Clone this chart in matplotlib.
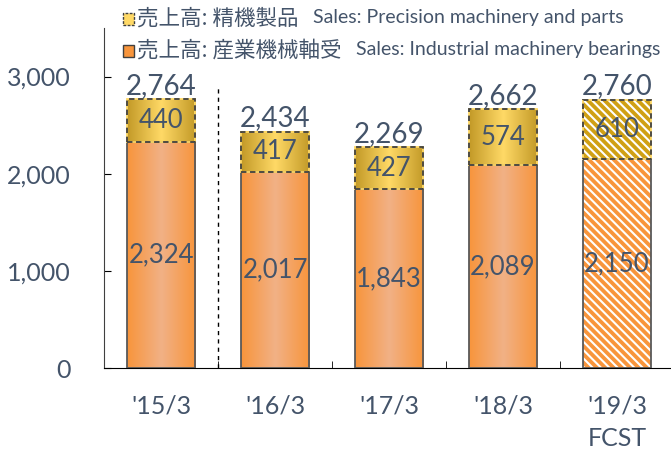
import numpy as np
import matplotlib.pyplot as plt

plt.rcParams['font.family'] = ['Lato', 'Noto Sans CJK JP', 'DejaVu Sans']
plt.rcParams['hatch.linewidth'] = 1.5

# data (sales, 100 million yen)
periods = ["'15/3", "'16/3", "'17/3", "'18/3", "'19/3\nFCST"]
industrial = [2324, 2017, 1843, 2089, 2150]
precision = [440, 417, 427, 574, 610]
totals = [2764, 2434, 2269, 2662, 2760]
forecast = [False, False, False, False, True]

txt_col = '#44546A'
orange_edge, orange_mid = '#F8953C', '#F1B186'
gold_edge, gold_mid = '#C39A28', '#FFD966'


def gradient_fill(ax, patch, c_edge, c_mid):
    x0, y0 = patch.get_x(), patch.get_y()
    w, h = patch.get_width(), patch.get_height()
    e = np.array(plt.matplotlib.colors.to_rgb(c_edge))
    m = np.array(plt.matplotlib.colors.to_rgb(c_mid))
    t = np.linspace(0, 1, 64)
    k = 1 - np.abs(2 * t - 1)
    row = e[None, :] * (1 - k[:, None]) + m[None, :] * k[:, None]
    img = np.repeat(row[None, :, :], 2, axis=0)
    ax.imshow(img, extent=(x0, x0 + w, y0, y0 + h), aspect='auto',
              zorder=1, interpolation='bilinear')


fig = plt.figure(figsize=(6.71, 4.5), dpi=100)
ax = fig.add_axes([104 / 671, 82 / 450, 570 / 671, 340 / 450])

x = np.arange(len(periods))
width = 0.6

bot = ax.bar(x, industrial, width, color='none', edgecolor='none', zorder=2)
top = ax.bar(x, precision, width, bottom=industrial, color='none',
             edgecolor='none', zorder=2)

for i in range(len(x)):
    pb, pt = bot[i], top[i]
    if forecast[i]:
        ax.bar(x[i], industrial[i], width, color=orange_edge, zorder=1)
        ax.bar(x[i], industrial[i], width, color='none', edgecolor='white',
               hatch='\\' * 4, linewidth=0, zorder=2)
        ax.bar(x[i], precision[i], width, bottom=industrial[i],
               color='#D0A014', zorder=1)
        ax.bar(x[i], precision[i], width, bottom=industrial[i], color='none',
               edgecolor='white', hatch='\\' * 4, linewidth=0, zorder=2)
    else:
        gradient_fill(ax, pb, orange_edge, orange_mid)
        gradient_fill(ax, pt, gold_edge, gold_mid)
    # borders
    ax.bar(x[i], industrial[i], width, color='none', edgecolor='#595959',
           linewidth=1.3, zorder=3)
    ax.bar(x[i], precision[i], width, bottom=industrial[i], color='none',
           edgecolor='#FFD966', linewidth=1.3, zorder=3)
    ax.bar(x[i], precision[i], width, bottom=industrial[i], color='none',
           edgecolor='#404040', linewidth=1.3, linestyle=(0, (3, 2)), zorder=4)

    ax.text(x[i], industrial[i] / 2, f'{industrial[i]:,}', ha='center',
            va='center', fontsize=18.5, color=txt_col, zorder=5)
    ax.text(x[i], industrial[i] + precision[i] / 2, f'{precision[i]:,}',
            ha='center', va='center', fontsize=18.5, color=txt_col, zorder=5)
    ax.annotate(f'{totals[i]:,}', (x[i], totals[i]), xytext=(0, 4),
                textcoords='offset points', ha='center', va='baseline',
                fontsize=20, color=txt_col, zorder=5)

# separator between actual '15/3 and the rest
ax.axvline(0.5, ymin=0, ymax=2880 / 3500, color='black', linewidth=1,
           linestyle=(0, (3, 3)), zorder=0)

ax.set_xlim(-0.5, 4.5)
ax.set_ylim(0, 3500)
ax.set_yticks([0, 1000, 2000, 3000])
ax.set_yticklabels([f'{v:,}' for v in [0, 1000, 2000, 3000]])
ax.set_xticks(x)
ax.set_xticklabels(periods, linespacing=1.5)
ax.set_xticks(x[:-1] + 0.5, minor=True)
ax.tick_params(axis='x', which='major', length=0, pad=19, labelsize=18,
               labelcolor=txt_col)
ax.tick_params(axis='x', which='minor', direction='in', length=5)
ax.tick_params(axis='y', direction='in', length=5, pad=24, labelsize=18,
               labelcolor=txt_col)
for s in ['top', 'right']:
    ax.spines[s].set_visible(False)
ax.spines['left'].set_color('#404040')

# legend
fig.patches.append(plt.Rectangle((123 / 671, 1 - 25 / 450), 11 / 671, 12 / 450,
                                 transform=fig.transFigure, facecolor=gold_mid,
                                 edgecolor='#404040', linestyle=(0, (2, 1))))
fig.patches.append(plt.Rectangle((123 / 671, 1 - 57 / 450), 11 / 671, 12 / 450,
                                 transform=fig.transFigure,
                                 facecolor=orange_edge, edgecolor='#404040'))
fig.text(137 / 671, 1 - 19 / 450, '売上高: 精機製品', fontsize=15.5,
         family=['Noto Sans CJK JP'], color=txt_col, va='center')
fig.text(313 / 671, 1 - 18 / 450, 'Sales: Precision machinery and parts',
         fontsize=14, color=txt_col, va='center')
fig.text(137 / 671, 1 - 51 / 450, '売上高: 産業機械軸受', fontsize=15.5,
         family=['Noto Sans CJK JP'], color=txt_col, va='center')
fig.text(356 / 671, 1 - 50 / 450, 'Sales: Industrial machinery bearings',
         fontsize=14, color=txt_col, va='center')

fig.savefig('out.png', dpi=100)
